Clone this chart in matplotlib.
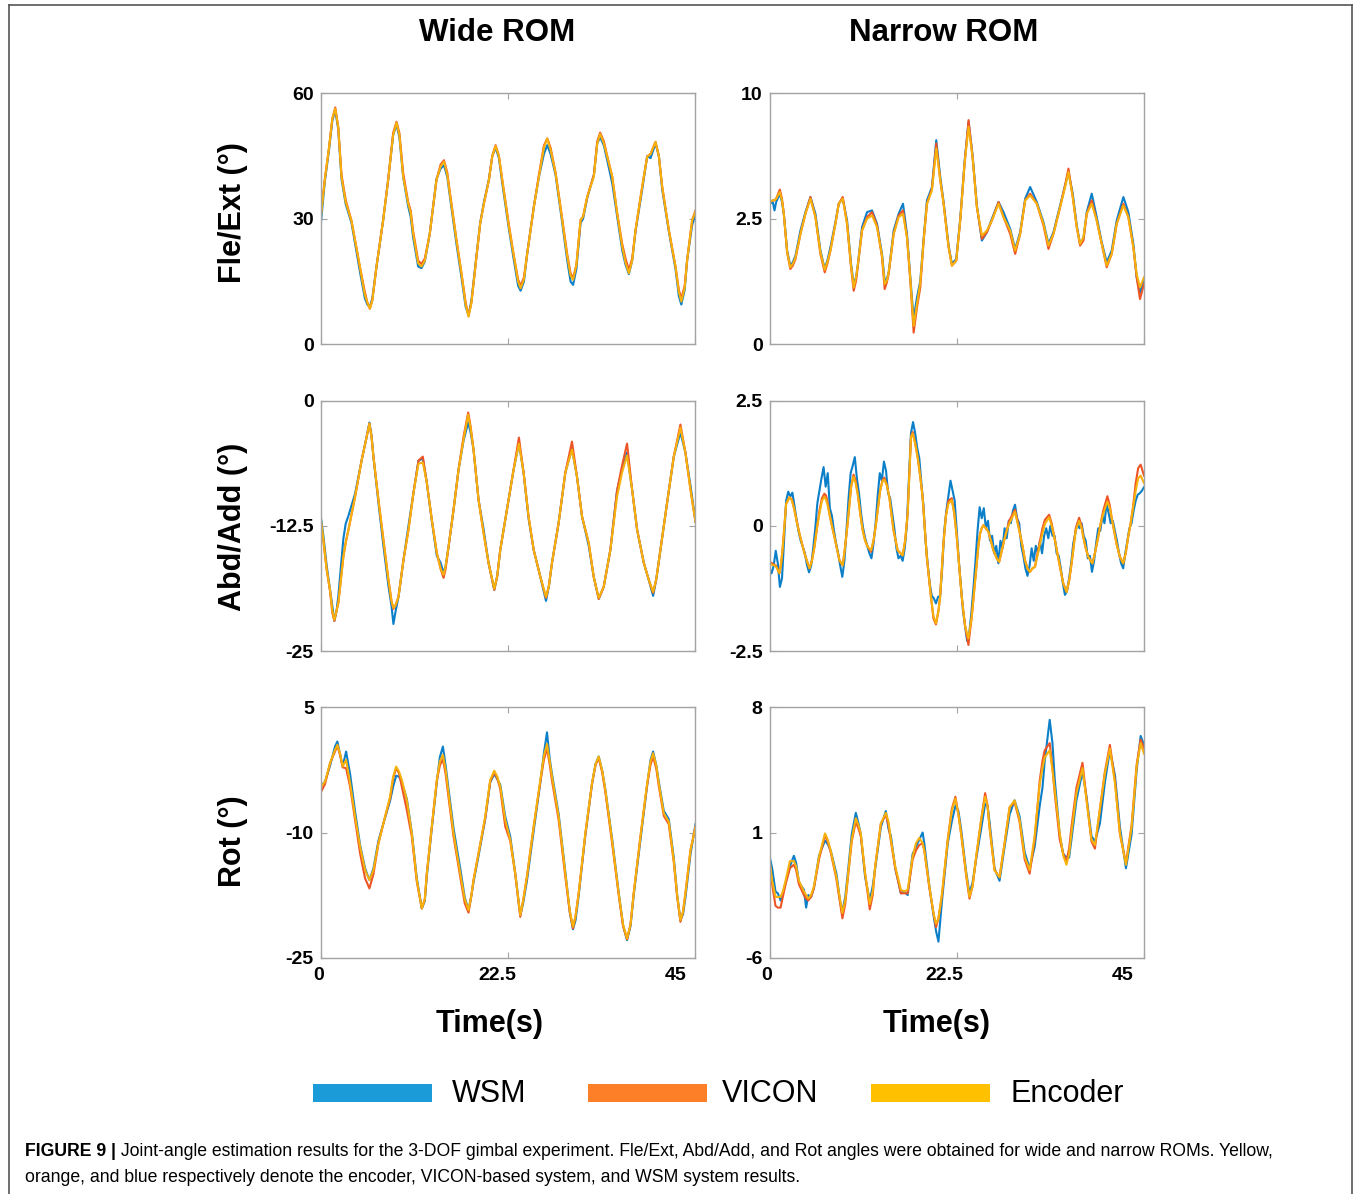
import matplotlib
matplotlib.use("Agg")
import matplotlib.pyplot as plt
from matplotlib.patches import Rectangle
from matplotlib.lines import Line2D
from matplotlib.transforms import ScaledTranslation

plt.rcParams['font.family'] = ['Liberation Sans', 'DejaVu Sans']

# ---------------- DATA ----------------
series_names = ["WSM", "VICON", "Encoder"]
col_titles = ["Wide ROM", "Narrow ROM"]
row_labels = ["Fle/Ext (°)", "Abd/Add (°)", "Rot (°)"]
x_ticks = [0, 22.5, 45]
x_ticklabels = ["0", "22.5", "45"]

# Wide ROM, Fle/Ext
t_wf = [0.0,0.5,1.0,1.4,1.75,2.1,2.5,3.0,3.7,4.7,5.3,5.6,5.9,6.2,6.7,7.5,8.1,8.7,9.1,9.45,9.9,10.5,10.8,11.1,11.7,12.1,12.5,13.1,13.9,14.4,14.8,15.2,15.5,16.3,16.9,17.4,17.75,18.1,18.75,19.15,19.6,20.2,20.6,21.0,21.4,21.8,22.6,23.2,23.7,24.0,24.4,24.8,25.6,26.2,26.8,27.2,27.6,28.2,29.0,29.6,30.0,30.3,30.7,31.2,31.5,32.0,32.8,33.2,33.55,34.0,34.4,35.0,35.6,36.2,36.6,37.0,37.4,37.8,38.6,39.2,39.6,40.2,40.6,41.0,41.8,42.6,43.0,43.3,43.7,44.0,44.6,45.0]
enc_wf = [30.0,39.5,47.0,54.0,56.3,52.0,40.0,34.0,29.5,18.6,11.8,10.0,8.5,10.5,18.6,29.7,39.3,50.0,53.0,50.0,40.1,33.7,31.5,26.5,19.4,18.6,20.0,26.5,39.3,42.5,43.7,40.5,36.1,24.9,17.0,9.5,6.6,10.0,21.8,28.9,33.7,39.3,45.0,47.4,45.0,39.3,28.1,21.0,15.0,13.4,15.5,21.8,32.9,40.1,47.0,49.2,46.5,40.9,29.7,21.0,16.5,15.4,19.0,29.7,30.5,35.3,40.1,48.0,50.3,48.0,44.9,40.1,31.3,23.4,19.5,17.0,20.0,27.3,37.7,44.9,45.5,48.4,45.0,37.7,27.3,18.6,12.5,10.2,13.5,20.2,29.7,31.7]
vic_wf = [31.0,39.5,47.0,54.0,56.6,52.0,40.5,34.5,29.5,18.6,12.5,10.0,8.5,10.5,18.6,29.7,39.3,50.5,53.2,50.5,41.0,34.0,32.0,27.0,20.0,19.2,20.5,26.5,39.3,43.0,44.0,41.0,36.5,25.0,17.0,10.0,6.8,10.0,21.8,28.9,33.7,39.3,45.0,47.6,45.0,39.3,28.5,21.0,15.5,14.0,16.0,21.8,33.0,40.5,47.5,49.2,47.0,41.0,30.0,21.5,17.0,15.8,19.0,29.7,30.5,35.3,40.5,48.5,50.6,48.5,45.0,40.1,31.3,24.0,20.5,17.8,20.5,27.3,37.7,44.9,45.5,48.4,45.0,37.7,27.3,18.6,13.0,11.0,14.0,20.2,29.7,32.0]
wsm_wf = [28.5,39.0,46.5,53.5,55.8,51.5,39.5,33.5,29.0,17.5,11.0,9.5,9.0,11.0,18.6,29.7,39.3,50.0,52.5,49.5,40.0,33.0,30.5,25.5,18.6,18.2,19.8,26.5,39.5,42.0,42.8,40.0,35.5,24.0,16.0,9.0,7.0,10.5,22.0,29.0,34.0,39.5,45.0,47.0,44.5,38.5,27.5,20.0,14.0,12.8,15.0,21.8,33.0,40.0,45.5,47.6,45.5,40.5,29.0,20.0,15.0,14.2,18.0,29.0,30.0,35.0,40.5,48.0,49.5,47.5,44.0,38.5,30.5,22.5,19.0,16.8,20.0,27.0,37.0,45.0,44.5,48.0,45.0,37.0,27.0,18.0,11.5,9.5,13.0,20.2,28.5,31.0]

# Narrow ROM, Fle/Ext
t_nf = [0.0,0.4,0.6,0.8,1.24,1.5,1.72,2.12,2.5,2.8,3.12,3.72,4.32,4.92,5.52,6.12,6.64,7.0,7.32,7.92,8.32,8.8,9.32,9.8,10.12,10.4,10.6,11.12,11.72,12.32,12.92,13.52,13.84,14.1,14.32,14.92,15.52,16.04,16.52,16.92,17.32,17.72,18.12,18.52,18.92,19.52,20.04,20.52,20.92,21.52,21.92,22.44,22.92,23.44,23.92,24.4,24.92,25.52,26.12,26.72,27.52,28.12,28.92,29.52,30.12,30.72,31.32,32.12,32.92,33.52,34.12,34.92,35.52,35.92,36.44,36.92,37.32,37.72,38.12,38.72,39.32,39.92,40.52,41.12,41.72,42.52,43.12,43.72,44.12,44.52,45.0]
enc_nf = [3.5,3.6,3.6,3.7,4.1,3.6,2.8,0.5,-0.4,-0.2,0.2,1.6,2.8,3.7,2.6,0.5,-0.55,0.0,0.6,2.2,3.4,3.7,2.2,-0.3,-1.6,-1.0,-0.3,1.8,2.5,2.7,2.0,0.3,-1.4,-1.2,-0.7,1.6,2.6,2.8,1.4,-1.1,-3.9,-2.6,-1.3,1.2,3.4,4.2,6.7,4.8,3.4,0.8,-0.3,0.0,2.4,5.8,8.0,6.2,3.2,1.5,1.8,2.4,3.4,2.6,1.8,0.6,1.6,3.6,3.9,3.4,2.2,0.9,1.6,3.2,4.4,5.3,3.8,2.0,1.0,1.4,2.8,3.4,2.4,1.0,-0.3,0.4,2.2,3.3,2.6,0.8,-0.8,-1.6,-1.0]
vic_nf = [3.5,3.6,3.6,3.7,4.25,3.7,2.8,0.5,-0.5,-0.3,0.1,1.6,2.8,3.8,2.6,0.4,-0.7,-0.1,0.6,2.2,3.4,3.8,2.2,-0.4,-1.8,-1.2,-0.4,1.8,2.6,2.9,2.1,0.2,-1.7,-1.3,-0.8,1.6,2.7,3.0,1.4,-1.2,-4.3,-2.8,-1.6,1.2,3.4,4.3,7.0,4.8,3.4,0.8,-0.3,0.0,2.4,5.8,8.4,6.2,3.2,1.3,1.7,2.4,3.5,2.6,1.6,0.4,1.6,3.6,4.0,3.4,2.1,0.7,1.6,3.2,4.5,5.5,3.8,2.0,0.9,1.2,2.8,3.6,2.4,1.0,-0.4,0.4,2.2,3.4,2.6,0.8,-1.0,-2.3,-1.4]
wsm_nf = [3.4,3.5,3.0,3.5,4.0,3.5,2.8,0.6,-0.3,-0.1,0.3,1.8,2.9,3.8,2.8,0.6,-0.5,0.1,0.8,2.3,3.4,3.7,2.4,-0.2,-1.4,-1.0,-0.3,2.0,2.9,3.0,2.2,0.4,-1.2,-1.1,-0.7,1.8,2.8,3.4,1.6,-1.0,-3.5,-2.2,-1.2,1.3,3.6,4.4,7.2,5.0,3.5,0.9,-0.2,0.1,2.5,5.9,8.3,6.3,3.3,1.2,1.7,2.5,3.5,2.9,1.9,0.7,1.7,3.7,4.4,3.5,2.3,1.0,1.7,3.3,4.5,5.3,4.0,2.1,1.0,1.3,2.9,4.0,2.6,1.1,-0.1,0.6,2.4,3.8,2.9,1.0,-1.0,-1.9,-1.2]

# Wide ROM, Abd/Add
t_wa = [0.0,0.32,0.72,1.12,1.4,1.64,1.9,2.12,2.72,3.0,3.33,4.13,4.93,5.45,5.85,6.1,6.33,6.93,7.53,8.13,8.5,8.73,9.0,9.34,9.94,10.54,11.14,11.74,12.26,12.74,13.34,13.94,14.4,14.75,15.0,15.35,15.95,16.55,17.15,17.71,18.0,18.35,18.95,19.55,20.15,20.84,21.2,21.56,22.36,23.16,23.8,24.36,24.96,25.57,26.37,27.05,27.4,27.77,28.57,29.37,30.17,30.77,31.38,32.18,32.78,33.38,33.98,34.78,35.58,36.18,36.78,37.39,37.99,38.79,39.39,39.91,40.3,40.79,41.59,42.39,43.19,43.79,44.4,45.0]
enc_wa = [-11.7,-13.9,-16.9,-18.9,-21.0,-21.9,-21.0,-20.2,-15.6,-14.2,-12.9,-9.6,-5.9,-3.9,-2.3,-3.6,-5.6,-9.9,-13.9,-17.9,-20.0,-20.7,-20.4,-19.6,-15.9,-12.9,-9.2,-6.3,-6.2,-8.2,-11.9,-15.2,-16.8,-17.4,-16.5,-14.6,-10.9,-6.9,-3.9,-1.4,-2.8,-4.9,-9.9,-13.2,-16.2,-18.8,-17.5,-14.9,-10.9,-6.9,-4.3,-7.2,-11.6,-14.9,-17.6,-19.6,-18.5,-16.2,-12.2,-7.2,-4.9,-7.6,-11.6,-14.2,-17.6,-19.7,-18.6,-14.9,-9.6,-7.2,-5.5,-8.9,-12.9,-16.2,-17.9,-19.1,-17.8,-14.9,-10.2,-5.6,-2.7,-5.2,-8.9,-12.1]
vic_wa = [-12.0,-14.0,-16.9,-19.0,-21.2,-22.0,-21.0,-20.2,-15.6,-14.2,-12.9,-9.6,-5.9,-3.9,-2.3,-3.6,-5.6,-9.9,-13.9,-17.9,-20.0,-20.8,-20.4,-19.6,-15.9,-12.9,-9.2,-6.0,-5.6,-8.2,-11.9,-15.2,-16.8,-17.7,-16.8,-14.6,-10.9,-6.9,-3.6,-1.2,-2.6,-4.9,-9.9,-13.2,-16.2,-18.9,-17.5,-14.9,-10.9,-6.9,-3.7,-7.2,-11.6,-14.9,-17.6,-19.7,-18.5,-16.2,-12.2,-7.2,-4.1,-7.6,-11.6,-14.2,-17.6,-19.8,-18.6,-14.9,-9.0,-6.5,-4.3,-8.9,-12.9,-16.2,-17.9,-19.2,-17.8,-14.9,-10.2,-5.6,-2.4,-5.2,-8.9,-12.1]
wsm_wa = [-11.5,-13.5,-16.5,-18.9,-20.5,-22.0,-21.0,-19.5,-13.8,-12.3,-11.5,-9.3,-5.9,-3.9,-2.2,-3.5,-5.6,-10.2,-14.5,-18.5,-20.5,-22.3,-21.0,-19.6,-15.9,-12.5,-9.2,-6.0,-5.8,-8.2,-12.0,-15.5,-16.2,-17.2,-16.5,-14.6,-10.9,-6.9,-4.0,-2.2,-3.2,-4.9,-9.9,-12.8,-16.2,-18.9,-17.5,-14.9,-10.9,-6.9,-4.3,-7.2,-11.8,-14.9,-17.6,-20.0,-18.5,-16.2,-12.2,-7.2,-4.8,-7.6,-11.6,-14.5,-17.6,-19.8,-18.6,-14.9,-9.0,-6.8,-5.2,-8.9,-12.9,-16.2,-17.9,-19.5,-17.8,-14.9,-10.2,-5.6,-3.2,-5.2,-8.5,-12.1]

# Narrow ROM, Abd/Add
t_na = [0.0,0.3,0.6,0.8,1.0,1.2,1.4,1.6,2.0,2.4,
        2.7,3.0,3.3,3.6,4.2,4.8,5.1,5.4,5.7,6.0,
        6.3,6.6,6.8,7.0,7.2,7.5,7.8,8.4,8.8,9.1,
        9.4,9.8,10.1,10.35,10.6,10.9,11.2,11.5,11.8,12.2,
        12.5,12.8,13.3,13.6,13.8,14.1,14.4,14.9,15.1,15.4,
        16.0,16.3,16.6,17.0,17.2,17.5,17.8,18.1,18.4,18.9,
        19.4,19.7,20.0,20.3,20.5,20.9,21.2,21.5,21.9,22.2,
        22.5,23.1,23.5,23.9,24.3,24.9,25.1,25.3,25.5,25.7,
        26.0,26.3,26.6,26.9,27.3,27.6,27.9,28.2,28.5,28.8,
        29.5,29.8,30.1,30.4,30.7,31.0,31.3,31.6,31.9,32.2,
        32.5,32.8,33.1,33.6,33.9,34.3,34.9,35.3,35.7,36.0,
        36.3,36.8,37.2,37.5,37.7,38.0,38.3,38.8,39.1,39.5,
        39.8,40.1,40.6,40.9,41.1,41.4,41.7,42.1,42.5,42.8,
        43.1,43.4,43.7,44.0,44.3,44.6,45.0]
enc_na = [-0.75,-0.78,-0.79,-0.82,-0.88,-0.95,-0.75,-0.42,0.44,0.57,
          0.50,0.31,0.05,-0.16,-0.55,-0.85,-0.70,-0.42,-0.05,0.24,
          0.50,0.58,0.52,0.40,0.24,0.00,-0.22,-0.69,-0.79,-0.40,
          0.07,0.77,0.98,0.85,0.64,0.25,-0.09,-0.30,-0.42,-0.49,
          -0.30,0.04,0.71,0.90,0.92,0.80,0.57,-0.09,-0.25,-0.49,
          -0.59,-0.30,0.24,1.77,1.84,1.65,1.37,1.00,0.57,-0.62,
          -1.42,-1.80,-1.95,-1.70,-1.42,-0.36,0.20,0.44,0.51,0.25,
          -0.22,-1.42,-2.00,-2.25,-1.82,-0.75,-0.40,-0.16,-0.05,0.01,
          -0.05,-0.12,-0.30,-0.49,-0.65,-0.72,-0.50,-0.29,-0.10,0.04,
          0.28,0.05,-0.16,-0.40,-0.69,-0.85,-0.92,-0.85,-0.82,-0.60,
          -0.36,-0.15,0.04,0.17,0.00,-0.29,-0.82,-1.15,-1.32,-1.10,
          -0.75,-0.09,0.10,-0.05,-0.22,-0.45,-0.62,-0.75,-0.55,-0.22,
          0.05,0.24,0.48,0.35,0.17,-0.10,-0.36,-0.62,-0.75,-0.55,
          -0.22,0.05,0.37,0.70,0.95,1.0,0.85]
vic_na = [-0.72,-0.75,-0.78,-0.8,-0.88,-0.95,-0.75,-0.42,0.44,0.57,
          0.52,0.31,0.08,-0.16,-0.55,-0.85,-0.70,-0.42,-0.05,0.30,
          0.55,0.64,0.60,0.45,0.24,0.00,-0.22,-0.69,-0.79,-0.40,
          0.07,0.77,1.02,0.9,0.64,0.25,-0.09,-0.30,-0.42,-0.52,
          -0.30,0.04,0.71,0.92,0.96,0.82,0.57,-0.09,-0.25,-0.49,
          -0.59,-0.30,0.24,1.77,1.87,1.65,1.37,1.00,0.57,-0.62,
          -1.42,-1.85,-1.97,-1.70,-1.42,-0.36,0.20,0.50,0.55,0.25,
          -0.22,-1.42,-2.00,-2.38,-1.82,-0.75,-0.40,-0.16,-0.05,0.01,
          -0.05,-0.12,-0.30,-0.49,-0.65,-0.72,-0.50,-0.29,-0.10,0.10,
          0.32,0.10,-0.16,-0.40,-0.69,-0.85,-0.92,-0.85,-0.82,-0.55,
          -0.30,-0.05,0.12,0.22,0.05,-0.29,-0.82,-1.15,-1.32,-1.10,
          -0.75,-0.05,0.16,0.00,-0.22,-0.45,-0.62,-0.75,-0.55,-0.22,
          0.05,0.30,0.59,0.40,0.17,-0.10,-0.36,-0.62,-0.75,-0.55,
          -0.22,0.05,0.40,0.85,1.15,1.22,1.0]
# WSM (noisier) sampled on its own, finer time base
t_na_wsm = [0.0,0.25,0.5,0.75,1.0,1.25,1.5,1.75,2.0,2.25,
            2.5,2.75,3.0,3.25,3.5,3.75,4.0,4.25,4.5,4.75,
            5.0,5.25,5.5,5.75,6.0,6.25,6.5,6.75,7.0,7.25,
            7.5,7.75,8.0,8.25,8.5,8.75,9.0,9.25,9.5,9.75,
            10.0,10.25,10.5,10.75,11.0,11.25,11.5,11.75,12.0,12.25,
            12.5,12.75,13.0,13.25,13.5,13.75,14.0,14.25,14.5,14.75,
            15.0,15.25,15.5,15.75,16.0,16.25,16.5,16.75,17.0,17.25,
            17.5,17.75,18.0,18.25,18.5,18.75,19.0,19.25,19.5,19.75,
            20.0,20.25,20.5,20.75,21.0,21.25,21.5,21.75,22.0,22.25,
            22.5,22.75,23.0,23.25,23.5,23.75,24.0,24.25,24.5,24.75,
            25.0,25.25,25.5,25.75,26.0,26.25,26.5,26.75,27.0,27.25,
            27.5,27.75,28.0,28.25,28.5,28.75,29.0,29.25,29.5,29.75,
            30.0,30.25,30.5,30.75,31.0,31.25,31.5,31.75,32.0,32.25,
            32.5,32.75,33.0,33.25,33.5,33.75,34.0,34.25,34.5,34.75,
            35.0,35.25,35.5,35.75,36.0,36.25,36.5,36.75,37.0,37.25,
            37.5,37.75,38.0,38.25,38.5,38.75,39.0,39.25,39.5,39.75,
            40.0,40.25,40.5,40.75,41.0,41.25,41.5,41.75,42.0,42.25,
            42.5,42.75,43.0,43.25,43.5,43.75,44.0,44.25,44.5,44.75,
            45.0]
wsm_na = [-0.85,-0.95,-0.80,-0.50,-0.75,-1.22,-1.05,-0.30,0.50,0.68,
          0.58,0.66,0.40,0.12,-0.12,-0.30,-0.42,-0.55,-0.78,-0.93,
          -0.80,-0.45,-0.05,0.45,0.70,0.95,1.17,0.78,1.05,0.35,
          0.20,-0.10,-0.35,-0.55,-0.80,-1.02,-0.70,-0.10,0.55,1.05,
          1.20,1.37,0.95,0.65,0.25,-0.05,-0.25,-0.40,-0.55,-0.65,
          -0.35,0.05,0.60,1.05,0.90,1.28,1.10,0.65,0.55,0.25,
          -0.05,-0.45,-0.65,-0.60,-0.70,-0.45,0.00,0.95,1.85,2.07,
          1.85,1.55,1.35,0.85,0.40,-0.30,-0.75,-1.15,-1.40,-1.45,
          -1.55,-1.42,-1.40,-0.85,-0.10,0.30,0.60,0.90,0.70,0.50,
          -0.10,-0.70,-1.20,-1.70,-2.00,-2.30,-2.15,-1.75,-1.25,-0.70,
          -0.10,0.37,0.15,0.35,-0.05,0.10,-0.30,-0.20,-0.55,-0.40,
          -0.75,-0.30,-0.45,-0.05,-0.25,0.10,0.05,0.30,0.42,0.15,
          0.05,-0.40,-0.60,-0.85,-1.00,-0.80,-0.45,-0.70,-0.40,-0.55,
          -0.30,-0.55,-0.20,-0.05,-0.25,0.00,-0.20,-0.20,-0.55,-0.60,
          -0.85,-1.15,-1.38,-1.30,-1.05,-0.75,-0.35,-0.15,0.05,-0.05,
          0.05,-0.20,-0.30,-0.65,-0.60,-0.92,-0.70,-0.35,-0.05,-0.10,
          0.20,0.05,0.45,0.25,0.05,0.10,-0.10,-0.30,-0.55,-0.75,
          -0.85,-0.55,-0.30,-0.05,0.05,0.30,0.50,0.62,0.65,0.70,
          0.77]

# Wide ROM, Rot
t_wr = [0.0,0.52,1.12,1.72,2.0,2.32,2.64,3.05,3.53,4.13,
        4.73,5.33,5.85,6.33,6.93,7.53,8.33,8.7,9.06,9.4,
        9.74,10.34,10.94,11.54,12.14,12.5,12.74,13.34,13.94,14.3,
        14.67,15.0,15.35,15.95,16.75,17.3,17.75,18.1,18.35,18.95,
        19.75,20.35,20.84,21.2,21.56,22.16,22.76,23.36,23.96,24.3,
        24.76,25.57,26.37,26.8,27.17,27.5,27.77,28.57,29.37,29.9,
        30.29,30.6,30.97,31.77,32.57,33.0,33.38,33.8,34.18,34.98,
        35.78,36.3,36.78,37.2,37.58,38.39,39.19,39.6,39.91,40.3,
        40.59,41.19,41.79,42.39,42.8,43.19,43.5,43.79,44.4,45.0]
enc_wr = [-4.6,-3.9,-1.7,-0.1,0.5,-0.5,-2.1,-1.3,-4.1,-8.1,
          -11.7,-14.5,-15.7,-14.5,-11.3,-8.9,-5.7,-3.3,-2.1,-2.7,
          -3.7,-6.1,-10.1,-15.7,-19.1,-18.0,-14.9,-9.3,-3.7,-1.5,
          -0.7,-2.5,-5.3,-10.1,-14.9,-18.0,-19.3,-17.5,-15.7,-12.5,
          -8.1,-3.7,-2.6,-3.3,-4.5,-8.5,-10.9,-14.9,-19.9,-18.2,
          -15.3,-9.3,-3.7,-0.8,0.6,-1.5,-3.3,-8.1,-14.9,-19.3,
          -21.3,-20.0,-17.3,-10.1,-4.1,-1.8,-0.9,-2.6,-4.9,-10.9,
          -17.3,-21.0,-22.7,-21.0,-17.3,-10.5,-4.1,-1.5,-0.5,-2.0,
          -4.1,-7.7,-8.7,-13.3,-17.5,-20.5,-19.5,-17.3,-12.1,-9.3]
vic_wr = [-5.2,-4.2,-1.7,-0.3,0.4,-0.7,-2.2,-2.3,-4.5,-8.5,
          -12.5,-15.5,-16.7,-15.0,-11.3,-8.9,-5.9,-3.5,-2.3,-2.9,
          -4.5,-7.3,-10.5,-15.9,-19.1,-18.0,-14.9,-9.3,-3.8,-2.0,
          -1.2,-3.0,-5.8,-10.5,-15.3,-18.5,-19.6,-17.5,-15.7,-12.5,
          -8.3,-3.9,-2.8,-3.5,-4.8,-9.3,-11.0,-15.0,-20.1,-18.2,
          -15.3,-9.3,-3.9,-1.3,0.1,-1.9,-3.8,-8.5,-15.3,-19.5,
          -21.5,-20.0,-17.3,-10.3,-4.2,-1.9,-1.1,-2.8,-5.2,-11.2,
          -17.5,-21.2,-22.8,-21.0,-17.3,-10.5,-4.3,-1.9,-0.9,-2.4,
          -4.4,-8.0,-9.0,-13.5,-17.7,-20.7,-19.5,-17.3,-12.1,-9.3]
wsm_wr = [-4.5,-3.9,-2.0,0.3,0.9,-0.6,-2.1,-0.3,-3.0,-7.5,
          -11.5,-14.3,-15.7,-14.3,-11.0,-8.9,-6.2,-4.5,-3.2,-3.3,
          -4.0,-6.0,-10.0,-15.5,-19.1,-18.2,-15.2,-9.5,-4.0,-1.0,
          0.3,-2.0,-4.8,-9.5,-14.3,-17.8,-19.3,-17.5,-15.9,-12.8,
          -8.4,-4.0,-3.0,-3.6,-4.3,-8.1,-10.5,-14.9,-19.9,-18.5,
          -15.8,-9.8,-4.0,-0.5,2.0,-1.2,-3.0,-7.8,-14.7,-19.5,
          -21.6,-20.5,-17.6,-10.3,-4.2,-1.8,-0.9,-2.6,-4.9,-10.7,
          -17.2,-21.1,-22.9,-21.2,-17.5,-10.9,-4.4,-1.3,-0.3,-2.0,
          -3.9,-7.4,-8.4,-13.0,-17.5,-20.5,-19.8,-17.8,-12.6,-9.0]

# Narrow ROM, Rot
t_nr = [0.0,0.32,0.72,1.0,1.33,1.6,1.93,2.45,2.93,3.2,
        3.54,4.14,4.4,4.66,5.0,5.34,5.95,6.67,7.0,7.35,
        8.04,8.5,8.76,9.1,9.36,9.88,10.37,10.7,10.97,11.49,
        12.05,12.4,12.7,13.38,13.98,14.3,14.59,15.11,15.79,16.2,
        16.6,17.2,17.6,18.0,18.4,18.6,19.21,19.7,20.01,20.3,
        20.73,21.42,21.9,22.34,22.7,23.02,23.63,24.03,24.4,24.83,
        25.43,25.91,26.2,26.44,27.04,27.64,28.25,28.85,29.45,30.05,
        30.66,31.26,31.86,32.47,32.8,33.07,33.67,34.0,34.27,34.88,
        35.3,35.68,36.0,36.28,36.88,37.61,38.09,38.69,39.1,39.7,
        40.3,40.9,41.51,42.11,42.83,43.51,44.12,44.6,45.0]
enc_nr = [-0.5,-1.7,-2.6,-2.6,-2.6,-2.3,-1.7,-0.6,-0.6,-0.9,
          -1.7,-2.3,-2.5,-2.7,-2.5,-2.0,-0.35,0.95,0.6,0.0,
          -1.5,-2.8,-3.5,-2.8,-1.7,0.6,1.8,1.4,0.95,-1.3,
          -3.0,-2.3,-0.9,1.5,2.1,1.6,0.6,-0.9,-2.2,-2.3,
          -2.2,-0.35,0.4,0.7,0.4,0.0,-2.0,-3.5,-4.1,-3.8,
          -2.4,0.6,2.2,2.9,2.0,0.95,-1.3,-2.6,-2.0,-0.35,
          1.7,3.0,2.5,1.3,-1.1,-1.5,0.4,2.4,2.8,1.7,
          -0.35,-1.1,0.8,3.7,4.6,5.2,5.6,4.5,3.4,0.95,
          -0.3,-0.8,-0.2,0.95,3.2,4.6,2.8,0.6,0.3,2.3,
          4.3,5.7,3.75,0.95,-0.8,1.3,4.7,6.0,5.4]
vic_nr = [-0.6,-1.9,-3.1,-3.2,-3.2,-2.6,-1.9,-1.0,-0.8,-1.1,
          -1.9,-2.5,-2.7,-2.8,-2.6,-2.1,-0.5,0.85,0.5,-0.1,
          -1.6,-3.0,-3.8,-3.0,-1.8,0.5,1.6,1.2,0.8,-1.3,
          -3.3,-2.5,-0.9,1.5,2.0,1.4,0.5,-1.0,-2.4,-2.4,
          -2.4,-0.5,0.0,0.3,0.4,0.0,-2.1,-3.5,-4.3,-3.8,
          -2.5,0.6,2.3,3.0,2.0,0.95,-1.4,-2.7,-2.0,-0.4,
          1.7,3.2,2.5,1.3,-1.1,-1.5,0.4,2.4,2.7,1.6,
          -0.5,-1.3,0.6,3.9,5.0,5.6,6.0,4.6,3.2,0.6,
          -0.2,-0.6,0.1,1.3,3.5,4.9,2.9,0.5,0.1,2.3,
          4.4,5.9,3.9,0.9,-0.7,1.4,4.8,6.2,5.7]
wsm_nr = [-0.3,-1.0,-2.3,-2.4,-2.8,-2.4,-1.8,-0.9,-0.3,-0.7,
          -1.8,-2.2,-3.2,-2.5,-2.6,-2.1,-0.3,0.55,0.35,0.0,
          -1.3,-2.9,-3.4,-2.6,-1.5,0.9,2.1,1.5,0.9,-1.5,
          -2.8,-2.0,-1.0,1.3,2.2,1.2,0.8,-1.0,-2.4,-2.3,
          -2.5,-0.2,0.2,0.6,1.0,0.4,-2.0,-3.6,-4.5,-5.1,
          -2.8,0.4,1.6,2.5,2.2,1.2,-1.2,-2.4,-1.8,-0.5,
          1.2,2.6,2.5,1.6,-1.0,-1.7,0.2,2.0,2.8,1.9,
          -0.1,-1.0,0.2,2.5,3.5,5.0,7.3,6.0,4.0,0.8,
          -0.2,-0.4,-0.4,0.6,2.8,4.4,3.0,0.8,0.5,1.5,
          3.8,5.6,4.2,1.3,-1.0,0.9,4.5,6.4,5.9]

# y-axis settings per panel (limits, tick positions, tick labels as printed)
ylims = {"wf": (0, 60), "nf": (-5, 10), "wa": (-25, 0), "na": (-2.5, 2.5),
         "wr": (-25, 5), "nr": (-6, 8)}
yticks = {"wf": [0, 30, 60], "nf": [-5, 2.5, 10], "wa": [-25, -12.5, 0],
          "na": [-2.5, 0, 2.5], "wr": [-25, -10, 5], "nr": [-6, 1, 8]}
yticklabels = {"wf": ["0", "30", "60"], "nf": ["0", "2.5", "10"],
               "wa": ["-25", "-12.5", "0"], "na": ["-2.5", "0", "2.5"],
               "wr": ["-25", "-10", "5"], "nr": ["-6", "1", "8"]}

caption_bold = "FIGURE 9 |"
caption_1 = (" Joint-angle estimation results for the 3-DOF gimbal experiment. Fle/Ext, "
             "Abd/Add, and Rot angles were obtained for wide and narrow ROMs. Yellow,")
caption_2 = ("orange, and blue respectively denote the encoder, VICON-based system, "
             "and WSM system results.")

# ---------------- STYLE / LAYOUT ----------------
W, H, DPI = 1357, 1194, 100
C_LINE = {"WSM": "#0b7fc7", "VICON": "#ee5526", "Encoder": "#f7b10c"}
C_LEG = {"WSM": "#1b9bd7", "VICON": "#fd7f27", "Encoder": "#ffc000"}
SPINE = "#a3a3a3"

fig = plt.figure(figsize=(W / DPI, H / DPI), dpi=DPI)
fig.patch.set_facecolor("white")


def fx(px):
    return px / W


def fy(py):
    return 1 - py / H


def rect(l, t, r, b):
    return [fx(l), fy(b), (r - l) / W, (b - t) / H]


cols_px = [(320.7, 695.5), (769.5, 1144.0)]
rows_px = [(93.3, 344.3), (400.5, 651.0), (707.3, 957.7)]

panels = [
    ["wf", "nf"],
    ["wa", "na"],
    ["wr", "nr"],
]
data = {
    "wf": (t_wf, wsm_wf, t_wf, vic_wf, enc_wf),
    "nf": (t_nf, wsm_nf, t_nf, vic_nf, enc_nf),
    "wa": (t_wa, wsm_wa, t_wa, vic_wa, enc_wa),
    "na": (t_na_wsm, wsm_na, t_na, vic_na, enc_na),
    "wr": (t_wr, wsm_wr, t_wr, vic_wr, enc_wr),
    "nr": (t_nr, wsm_nr, t_nr, vic_nr, enc_nr),
}

for r, row in enumerate(panels):
    for c, key in enumerate(row):
        l, rr = cols_px[c]
        t, b = rows_px[r]
        ax = fig.add_axes(rect(l, t, rr, b))
        tw, ws, tt, vi, en = data[key]
        ax.plot(tw, ws, color=C_LINE["WSM"], lw=1.5, solid_joinstyle="round")
        ax.plot(tt, vi, color=C_LINE["VICON"], lw=1.5, solid_joinstyle="round")
        ax.plot(tt, en, color=C_LINE["Encoder"], lw=1.5, solid_joinstyle="round")
        ax.set_xlim(0, 45)
        ax.set_ylim(*ylims[key])
        ax.set_xticks(x_ticks)
        ax.set_yticks(yticks[key])
        ax.set_yticklabels(yticklabels[key], fontsize=14, fontweight="bold")
        if r == 2:
            ax.set_xticklabels(x_ticklabels, fontsize=14, fontweight="bold")
        else:
            ax.set_xticklabels([])
        for s in ax.spines.values():
            s.set_color(SPINE)
            s.set_linewidth(1.0)
        ax.tick_params(direction="in", length=4, width=0.8, color=SPINE,
                       top=True, right=True, labelcolor="black")
        ax.tick_params(axis="x", pad=6.5)
        ax.tick_params(axis="y", pad=5.0)
        if r == 2:
            offs = [-2, -11, -20] if c == 0 else [-3, -12, -21]
            for lab, dx in zip(ax.get_xticklabels(), offs):
                lab.set_transform(lab.get_transform() +
                                  ScaledTranslation(dx / DPI, 0, fig.dpi_scale_trans))

# column titles
for title, xc in zip(col_titles, [497, 944]):
    fig.text(fx(xc), fy(33), title, ha="center", va="center",
             fontsize=22.5, fontweight="bold")

# row labels
for lab, yc in zip(row_labels, [213, 527, 841]):
    fig.text(fx(233), fy(yc), lab, ha="center", va="center", rotation=90,
             fontsize=22, fontweight="bold")

# x labels
for xc in [490, 937]:
    fig.text(fx(xc), fy(1024), "Time(s)", ha="center", va="center",
             fontsize=22, fontweight="bold")

# legend
leg_items = [("WSM", 313, 432, 452), ("VICON", 588, 707, 722), ("Encoder", 871, 990, 1011)]
for name, x0, x1, xt in leg_items:
    fig.add_artist(Rectangle((fx(x0), fy(1102)), (x1 - x0) / W, 18 / H,
                             transform=fig.transFigure, facecolor=C_LEG[name],
                             edgecolor="none"))
    fig.text(fx(xt), fy(1094), name, ha="left", va="center", fontsize=22)

# caption
renderer = fig.canvas.get_renderer()
cap_size = 12.0
tb = fig.text(fx(25), fy(1152), caption_bold, ha="left", va="center",
              fontsize=cap_size, fontweight="bold")
t1 = fig.text(0, fy(1152), caption_1, ha="left", va="center", fontsize=cap_size)
bb_b = tb.get_window_extent(renderer)
bb_1 = t1.get_window_extent(renderer)
total = bb_b.width + bb_1.width
scale = (1279 - 25) / total
cap_size *= scale
tb.set_fontsize(cap_size)
t1.set_fontsize(cap_size)
bb_b = tb.get_window_extent(renderer)
t1.set_x(fx(25 + bb_b.width))
fig.text(fx(25), fy(1177), caption_2, ha="left", va="center", fontsize=cap_size)

# outer frame
fc = "#555555"
fig.add_artist(Line2D([fx(9), fx(9)], [fy(5), fy(1194)], transform=fig.transFigure,
                      color=fc, lw=1.2))
fig.add_artist(Line2D([fx(9), fx(1352)], [fy(5), fy(5)], transform=fig.transFigure,
                      color=fc, lw=1.2))
fig.add_artist(Line2D([fx(1352), fx(1352)], [fy(5), fy(1194)], transform=fig.transFigure,
                      color=fc, lw=1.2))

fig.savefig("out.png", dpi=DPI, facecolor="white")
